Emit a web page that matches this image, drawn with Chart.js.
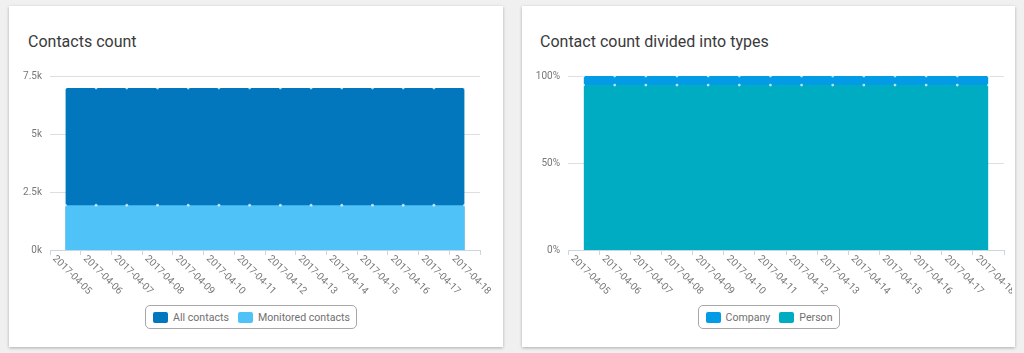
<!DOCTYPE html>
<html>
<head>
<meta charset="utf-8">
<script src="https://cdn.jsdelivr.net/npm/chart.js@4"></script>
<style>
  html, body { margin: 0; padding: 0; }
  body { width: 1024px; height: 353px; background: #f0f0f0; font-family: Roboto, sans-serif; position: relative; overflow: hidden; }
  .card { position: absolute; top: 6px; height: 341px; background: #fff; box-shadow: 0 1px 3px rgba(0,0,0,0.28); overflow: hidden; }
  .card h3 { position: absolute; margin: 0; top: 26px; font-size: 16px; font-weight: 400; color: #3a3a3a; }
  .wrap { position: absolute; left: 0; top: 54px; height: 240px; }
  .legend { position: absolute; top: 299px; left: 0; right: 0; display: flex; justify-content: center; }
  .legend .box { display: flex; align-items: center; height: 24px; box-sizing: border-box; border: 1px solid #a8a8a8; border-radius: 5px; padding: 0 6px 0 7px; }
  .legend .item { display: flex; align-items: center; font-size: 10.6px; color: #707070; margin-right: 9px; }
  .legend .item:last-child { margin-right: 0; }
  .legend .sw { width: 15px; height: 11px; border-radius: 2px; margin-right: 5px; }
</style>
</head>
<body>
<div class="card" style="left:9px;width:494px">
  <h3 style="left:19px">Contacts count</h3>
  <div class="wrap" style="width:494px"><canvas id="contacts"></canvas></div>
  <div class="legend" id="legend1" style="right:10px"></div>
</div>
<div class="card" style="left:522px;width:493px">
  <h3 style="left:18px">Contact count divided into types</h3>
  <div class="wrap" style="width:490px"><canvas id="types"></canvas></div>
  <div class="legend" id="legend2"></div>
</div>
<script>
const days = ["2017-04-05", "2017-04-06", "2017-04-07", "2017-04-08", "2017-04-09", "2017-04-10", "2017-04-11",
  "2017-04-12", "2017-04-13", "2017-04-14", "2017-04-15", "2017-04-16", "2017-04-17", "2017-04-18"];

const allContacts = [6980, 6980, 6980, 6980, 6980, 6980, 6980, 6980, 6980, 6980, 6980, 6980, 6980, 6980];
const monitoredContacts = [1930, 1930, 1930, 1930, 1930, 1930, 1930, 1930, 1930, 1930, 1930, 1930, 1930, 1930];

// share of each type, percent
const companyShare = [5.2, 5.2, 5.2, 5.2, 5.2, 5.2, 5.2, 5.2, 5.2, 5.2, 5.2, 5.2, 5.2, 5.2];
const personShare = [94.8, 94.8, 94.8, 94.8, 94.8, 94.8, 94.8, 94.8, 94.8, 94.8, 94.8, 94.8, 94.8, 94.8];

const contactTicks = [0, 2500, 5000, 7500];
const shareTicks = [0, 50, 100];

Chart.defaults.font.family = "Roboto";
Chart.defaults.font.size = 10;
Chart.defaults.color = "#777";

// x labels hang down to the right, chart.js only rotates the other way
const slantedLabels = {
  id: "slantedLabels",
  afterDraw(chart) {
    const scale = chart.scales.x;
    const ctx = chart.ctx;
    ctx.save();
    ctx.font = "10px Roboto";
    ctx.fillStyle = "#777";
    ctx.textAlign = "left";
    ctx.textBaseline = "alphabetic";
    scale.ticks.forEach((t, i) => {
      ctx.save();
      ctx.translate(scale.getPixelForTick(i) - 13, scale.top + 9);
      ctx.rotate(Math.PI / 4);
      ctx.fillText(scale.getLabelForValue(t.value), 0, 0);
      ctx.restore();
    });
    ctx.restore();
  }
};

function area(label, data, color, extra) {
  return Object.assign({
    label: label,
    data: data,
    backgroundColor: color,
    borderColor: color,
    borderWidth: 0,
    fill: "origin",
    tension: 0,
    pointRadius: 1.4,
    pointBorderWidth: 0,
    pointBackgroundColor: "rgba(255,255,255,0.7)"
  }, extra);
}

function xAxis() {
  return {
    offset: true,
    border: { color: "#c9d6e4" },
    grid: { offset: true, drawOnChartArea: false, drawTicks: true, tickLength: 5, color: "#c9d6e4" },
    ticks: { display: false },
    afterFit(scale) { scale.height = 50; }
  };
}

function yAxis(tickValues, width, fmt) {
  return {
    min: 0,
    max: tickValues[tickValues.length - 1],
    border: { display: false },
    grid: { color: "#dedede", drawTicks: false },
    ticks: { padding: 8, stepSize: tickValues[1] - tickValues[0], callback: fmt },
    afterFit(scale) { scale.width = width; }
  };
}

function legend(id, items) {
  const box = document.createElement("div");
  box.className = "box";
  items.forEach(it => {
    const el = document.createElement("div");
    el.className = "item";
    el.innerHTML = '<span class="sw" style="background:' + it.color + '"></span>' + it.label;
    box.appendChild(el);
  });
  document.getElementById(id).appendChild(box);
}

new Chart(document.getElementById("contacts"), {
  type: "line",
  data: {
    labels: days,
    datasets: [
      area("All contacts", allContacts, "#0277bd", { order: 2 }),
      area("Monitored contacts", monitoredContacts, "#4fc3f7", { order: 1 })
    ]
  },
  options: {
    responsive: true,
    maintainAspectRatio: false,
    animation: false,
    layout: { padding: { left: 0, right: 23, top: 16, bottom: 0 } },
    plugins: { legend: { display: false }, tooltip: { enabled: false } },
    scales: {
      x: xAxis(),
      y: yAxis(contactTicks, 41, v => v / 1000 + "k")
    }
  },
  plugins: [slantedLabels]
});

new Chart(document.getElementById("types"), {
  type: "line",
  data: {
    labels: days,
    datasets: [
      area("Person", personShare, "#00acc1"),
      area("Company", companyShare, "#039be5", { fill: "-1" })
    ]
  },
  options: {
    responsive: true,
    maintainAspectRatio: false,
    animation: false,
    layout: { padding: { left: 0, right: 8, top: 16, bottom: 0 } },
    plugins: { legend: { display: false }, tooltip: { enabled: false } },
    scales: {
      x: xAxis(),
      y: Object.assign(yAxis(shareTicks, 46, v => v + "%"), { stacked: true })
    }
  },
  plugins: [slantedLabels]
});

legend("legend1", [
  { label: "All contacts", color: "#0277bd" },
  { label: "Monitored contacts", color: "#4fc3f7" }
]);
legend("legend2", [
  { label: "Company", color: "#039be5" },
  { label: "Person", color: "#00acc1" }
]);
</script>
</body>
</html>
